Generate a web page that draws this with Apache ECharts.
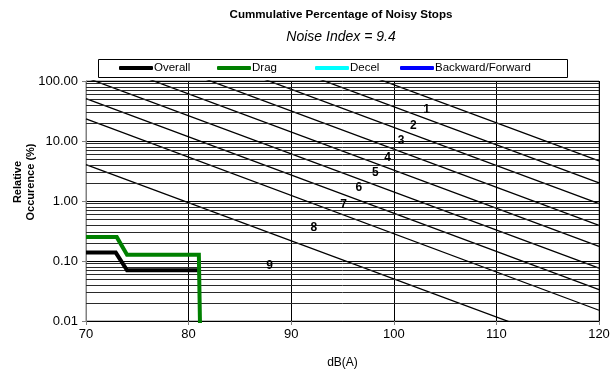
<!DOCTYPE html>
<html><head><meta charset="utf-8">
<script src="https://cdn.jsdelivr.net/npm/echarts@6/dist/echarts.min.js"></script>
<style>html,body{margin:0;padding:0;background:#fff}#c{width:612px;height:371px}</style>
</head><body><div id="c"></div>
<script>
// ---- data ----
const titleText = 'Cummulative Percentage of Noisy Stops';
const subtitleText = 'Noise Index = 9.4';
const seriesNames = ['Overall', 'Drag', 'Decel', 'Backward/Forward'];
const overallDb = [70, 72.9, 74, 80.9];
const overallPct = [0.138, 0.138, 0.07, 0.07];
const dragDb = [70, 73, 74, 81, 81.2];
const dragPct = [0.25, 0.25, 0.127, 0.127, 0.001];
const decelDb = [];
const decelPct = [];
const bfDb = [];
const bfPct = [];
// noise index reference lines: value at 70 dB and at 120 dB
const indexNames = ['1', '2', '3', '4', '5', '6', '7', '8', '9'];
const indexAt70 = [6950, 2985, 1355, 589, 263, 113.5, 51, 23.4, 4.05];
const indexAt120 = [4.65, 2.0, 0.906, 0.394, 0.176, 0.0759, 0.0333, 0.0151, 0.0027];
const labelDb = [103.2, 101.9, 100.7, 99.4, 98.2, 96.6, 95.1, 92.2, 87.9];
const labelPct = [33.4, 17.8, 10.0, 5.29, 2.93, 1.65, 0.88, 0.36, 0.085];
const xTicks = [70, 80, 90, 100, 110, 120];
const yTicks = [0.01, 0.1, 1, 10, 100];

const minorGrid = [];
for (let i = 0; i < yTicks.length - 1; i++) {
  for (let k = 2; k <= 9; k++) minorGrid.push(+(yTicks[i] * k).toPrecision(3));
}

const FONT = 'Liberation Sans, Arial, sans-serif';
const chart = echarts.init(document.getElementById('c'), null, {renderer: 'canvas'});

const series = [];
series.push({
  name: '_grid', type: 'line', data: [], silent: true, z: 1,
  markLine: {
    silent: true, symbol: 'none', animation: false,
    label: {show: false},
    lineStyle: {type: 'solid', color: '#2a2a2a', width: 1},
    data: minorGrid.map(v => ({yAxis: v}))
  }
});
indexNames.forEach((n, i) => {
  series.push({
    name: 'idx' + n, type: 'line', silent: true, symbol: 'none', clip: true, z: 2,
    lineStyle: {color: '#000', width: 1.3},
    data: [[70, indexAt70[i]], [120, indexAt120[i]]]
  });
});
series.push({
  name: '_labels', type: 'scatter', symbolSize: 1, silent: true, z: 20, zlevel: 0,
  itemStyle: {opacity: 0},
  label: {show: true, position: 'inside', formatter: p => p.data[2],
    fontFamily: FONT, fontWeight: 'bold', fontSize: 12, color: '#000', opacity: 1},
  labelLayout: {hideOverlap: false},
  emphasis: {disabled: true},
  data: labelDb.map((d, i) => [d, labelPct[i], indexNames[i]])
});
const colors = ['#000000', '#008000', '#00FFFF', '#0000FF'];
const xs = [overallDb, dragDb, decelDb, bfDb];
const ys = [overallPct, dragPct, decelPct, bfPct];
seriesNames.forEach((n, i) => {
  series.push({
    name: n, type: 'line', symbol: 'none', clip: true, z: 5,
    color: colors[i],
    lineStyle: {color: colors[i], width: 4, join: 'miter'},
    data: xs[i].map((d, j) => [d, ys[i][j]])
  });
});

const legendLefts = [119, 217, 315, 400];
const legends = seriesNames.map((n, i) => ({
  data: [n], left: legendLefts[i], top: 62, padding: 0,
  icon: 'roundRect', itemWidth: 34, itemHeight: 4, itemGap: 0,
  selectedMode: false,
  textStyle: {fontFamily: FONT, fontSize: 11.5, color: '#000', lineHeight: 12, padding: [0, 0, 0, -4]}
}));

chart.setOption({
  animation: false,
  backgroundColor: '#fff',
  title: [
    {text: titleText, left: 341, top: 9, textAlign: 'center', padding: 0,
     textStyle: {fontFamily: FONT, fontSize: 11.6, fontWeight: 'bold', color: '#000'}},
    {text: subtitleText, left: 341, top: 30, textAlign: 'center', padding: 0,
     textStyle: {fontFamily: FONT, fontSize: 14, fontStyle: 'italic', fontWeight: 'normal', color: '#000'}}
  ],
  legend: legends,
  graphic: [
    {type: 'rect', shape: {x: 98.5, y: 59.5, width: 469, height: 18}, z: -10,
     style: {fill: '#fff', stroke: '#000', lineWidth: 1}},
    {type: 'text', x: 24, y: 182, rotation: Math.PI / 2,
     style: {text: 'Relative\nOccurence (%)', fontFamily: FONT, fontSize: 11, fontWeight: 'bold',
       lineHeight: 13, fill: '#000', align: 'center', verticalAlign: 'middle'}}
  ],
  grid: {left: 86, right: 13, top: 81, bottom: 50, show: true, borderColor: '#808080', borderWidth: 1,
    backgroundColor: 'transparent', containLabel: false, outerBoundsMode: 'none'},
  xAxis: {
    type: 'value', min: xTicks[0], max: xTicks[xTicks.length - 1], interval: 10,
    name: 'dB(A)', nameLocation: 'middle', nameGap: 36,
    nameTextStyle: {fontFamily: FONT, fontSize: 12, color: '#000'},
    axisLine: {show: true, onZero: false, lineStyle: {color: '#000', width: 1}},
    axisTick: {show: true, inside: false, length: 4, lineStyle: {color: '#808080'}},
    axisLabel: {fontFamily: FONT, fontSize: 13, color: '#000', margin: 7},
    splitLine: {show: true, lineStyle: {color: '#000', width: 1}}
  },
  yAxis: {
    type: 'log', logBase: 10, min: yTicks[0], max: yTicks[yTicks.length - 1],
    axisLine: {show: true, lineStyle: {color: '#808080', width: 1}},
    axisTick: {show: true, inside: false, length: 4, lineStyle: {color: '#808080'}},
    axisLabel: {fontFamily: FONT, fontSize: 13, color: '#000', margin: 8,
      formatter: v => Number(v).toFixed(2)},
    splitLine: {show: true, lineStyle: {color: '#000', width: 1}},
    minorTick: {show: false}, minorSplitLine: {show: false}
  },
  series: series
});
</script></body></html>
